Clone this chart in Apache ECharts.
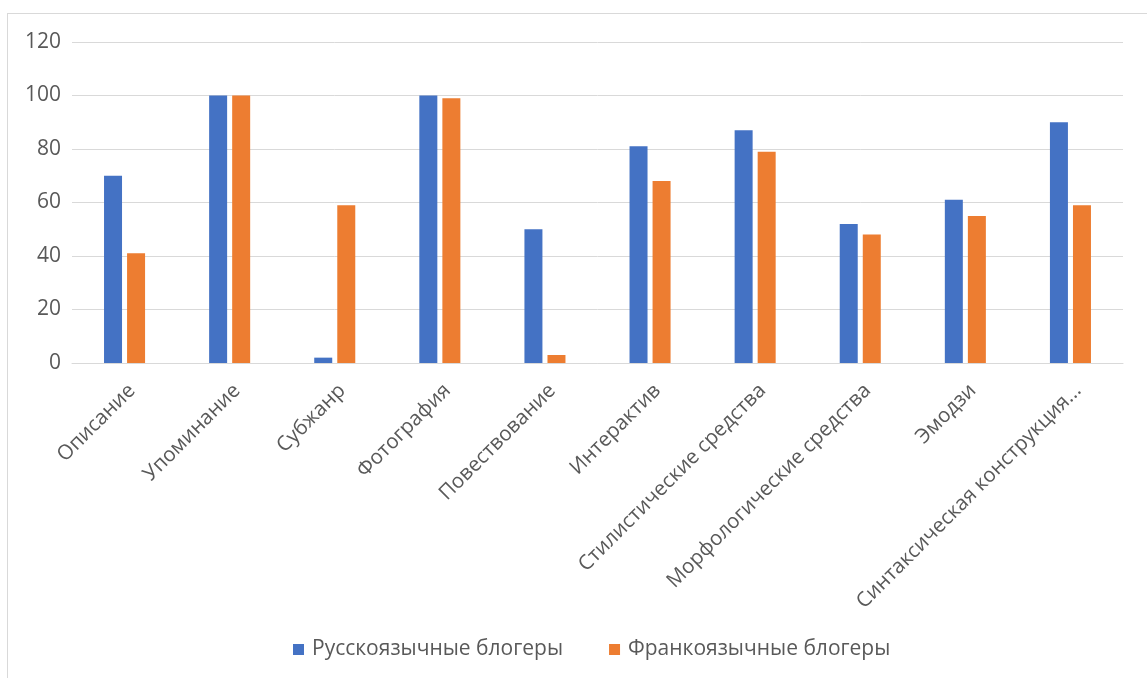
<!DOCTYPE html>
<html>
<head>
<meta charset="utf-8">
<script src="https://cdn.jsdelivr.net/npm/echarts@6/dist/echarts.min.js"></script>
<style>
  html, body { margin: 0; padding: 0; background: #fff; }
  #frame { position: absolute; left: 7px; top: 13px; width: 1150px; height: 680px; border: 1px solid #d9d9d9; }
  #chart { position: absolute; left: 0; top: 0; width: 1147px; height: 678px; }
</style>
</head>
<body>
<div id="frame"></div>
<div id="chart"></div>
<script>
const categories = ['Описание', 'Упоминание', 'Субжанр', 'Фотография', 'Повествование', 'Интерактив',
  'Стилистические средства', 'Морфологические средства', 'Эмодзи', 'Синтаксическая конструкция...'];
const seriesNames = ['Русскоязычные блогеры', 'Франкоязычные блогеры'];
const russianValues = [70, 100, 2, 100, 50, 81, 87, 52, 61, 90];
const frenchValues = [41, 100, 59, 99, 3, 68, 79, 48, 55, 59];
const colors = ['#4472c4', '#ed7d31'];

let chart = echarts.init(document.getElementById('chart'));
const font = '"Open Sans", "Liberation Sans", sans-serif';

chart.setOption({
    color: colors,
    animation: false,
    textStyle: { fontFamily: font },
    grid: { left: 72, right: 24, top: 42, height: 321, containLabel: false },
    legend: {
        top: 634,
        left: 288,
        itemWidth: 11,
        itemHeight: 11,
        itemGap: 46,
        icon: 'rect',
        textStyle: { color: '#595959', fontSize: 21, fontFamily: font, padding: [0, 0, 0, 3] },
        data: seriesNames
    },
    xAxis: {
        type: 'category',
        data: categories,
        axisLine: { lineStyle: { color: '#d9d9d9', width: 1 } },
        axisTick: { show: false },
        axisLabel: { rotate: 45, color: '#595959', fontSize: 20.5, fontFamily: font, interval: 0, margin: 17, verticalAlign: 'top' }
    },
    yAxis: {
        type: 'value',
        min: 0,
        max: 120,
        interval: 20,
        axisLine: { show: false },
        axisTick: { show: false },
        splitLine: { lineStyle: { color: '#d9d9d9', width: 1 } },
        axisLabel: { color: '#595959', fontSize: 21, fontFamily: font, margin: 11 }
    },
    series: [{
        name: seriesNames[0],
        type: 'bar',
        barWidth: 18,
        barGap: '28%',
        data: russianValues
    }, {
        name: seriesNames[1],
        type: 'bar',
        barWidth: 18,
        barGap: '28%',
        data: frenchValues
    }]
});
</script>
</body>
</html>
